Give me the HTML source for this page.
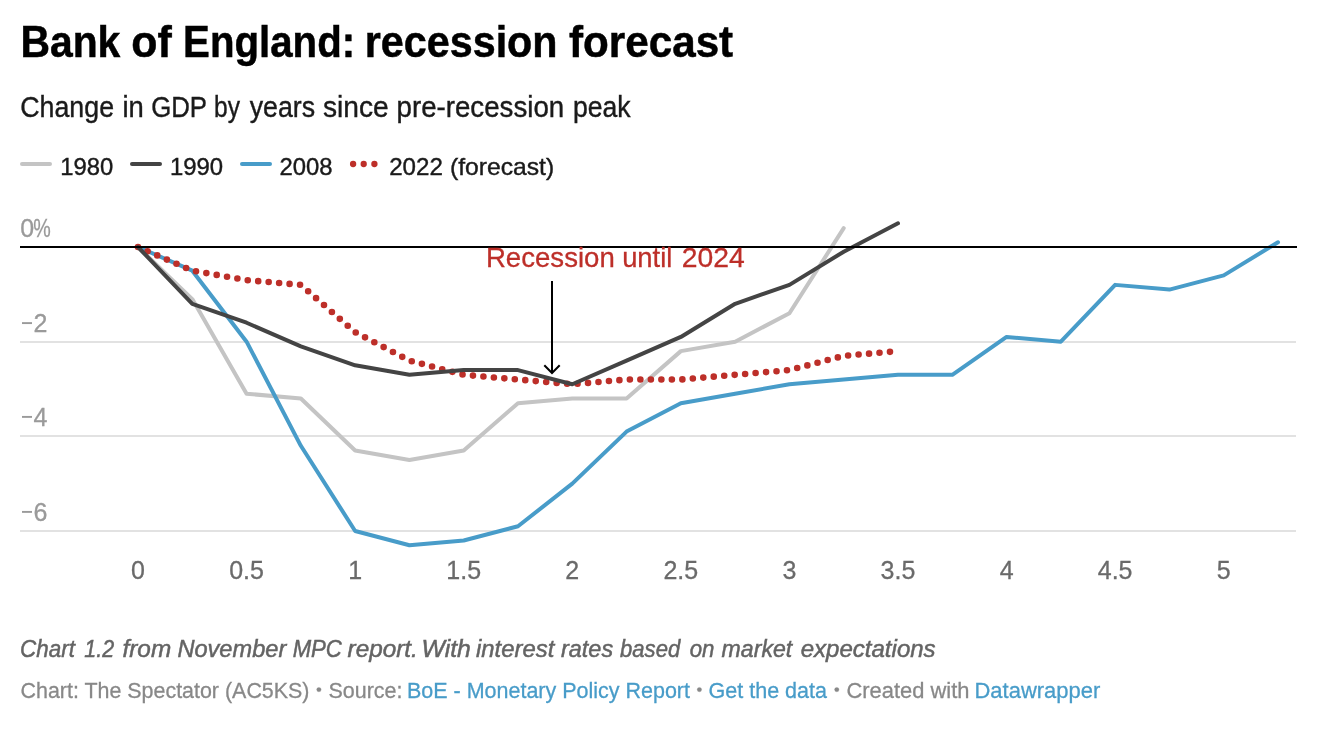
<!DOCTYPE html>
<html><head><meta charset="utf-8"><style>
html,body{margin:0;padding:0;background:#fff;}
body{width:1340px;height:754px;overflow:hidden;position:relative;}
svg{position:absolute;left:0;top:0;will-change:transform;}
text{font-family:"Liberation Sans",sans-serif;}
</style></head><body>
<svg width="1340" height="754" viewBox="0 0 1340 754">
<rect width="1340" height="754" fill="#fff"/>
<g font-size="45" font-weight="bold" fill="#000" stroke="#000" stroke-width="0.5"><text x="20.38" y="57.3" textLength="99.96" lengthAdjust="spacingAndGlyphs">Bank</text><text x="131.35" y="57.3" textLength="40.46" lengthAdjust="spacingAndGlyphs">of</text><text x="183.11" y="57.3" textLength="172.0" lengthAdjust="spacingAndGlyphs">England:</text><text x="364.77" y="57.3" textLength="192.78" lengthAdjust="spacingAndGlyphs">recession</text><text x="569.0" y="57.3" textLength="164.17" lengthAdjust="spacingAndGlyphs">forecast</text></g>
<g font-size="29" fill="#1a1a1a" stroke="#1a1a1a" stroke-width="0.4"><text x="20.28" y="116.6" textLength="93.77" lengthAdjust="spacingAndGlyphs">Change</text><text x="122.46" y="116.6" textLength="21.34" lengthAdjust="spacingAndGlyphs">in</text><text x="151.21" y="116.6" textLength="55.84" lengthAdjust="spacingAndGlyphs">GDP</text><text x="214.05" y="116.6" textLength="25.94" lengthAdjust="spacingAndGlyphs">by</text><text x="249.7" y="116.6" textLength="65.35" lengthAdjust="spacingAndGlyphs">years</text><text x="323.03" y="116.6" textLength="65.75" lengthAdjust="spacingAndGlyphs">since</text><text x="396.55" y="116.6" textLength="167.66" lengthAdjust="spacingAndGlyphs">pre-recession</text><text x="572.88" y="116.6" textLength="57.72" lengthAdjust="spacingAndGlyphs">peak</text></g>
<g stroke-linecap="round" stroke-width="4" fill="none">
<line x1="22" y1="164" x2="50" y2="164" stroke="#c4c4c4"/>
<line x1="132" y1="164" x2="160" y2="164" stroke="#444444"/>
<line x1="242" y1="164" x2="270" y2="164" stroke="#489cc9"/>
</g>
<g fill="#bd2f29"><circle cx="353.1" cy="164" r="3.15"/><circle cx="363.7" cy="164" r="3.15"/><circle cx="374.4" cy="164" r="3.15"/></g>
<g font-size="24" fill="#1a1a1a" stroke="#1a1a1a" stroke-width="0.4"><text x="60.21" y="175" textLength="52.98" lengthAdjust="spacingAndGlyphs">1980</text><text x="169.9" y="175" textLength="53.19" lengthAdjust="spacingAndGlyphs">1990</text><text x="279.51" y="175" textLength="53.08" lengthAdjust="spacingAndGlyphs">2008</text><text x="389.19" y="175" textLength="53.7" lengthAdjust="spacingAndGlyphs">2022</text><text x="449.97" y="175" textLength="104.23" lengthAdjust="spacingAndGlyphs">(forecast)</text></g>
<g fill="none" stroke="#e2e2e2" stroke-width="2">
<line x1="20" y1="342" x2="1296" y2="342"/>
<line x1="20" y1="436" x2="1296" y2="436"/>
<line x1="20" y1="531" x2="1296" y2="531"/>
</g>
<g font-size="25" fill="#9a9a9a" stroke="#9a9a9a" stroke-width="0.3">
<text x="20.3" y="237">0</text><text x="33.2" y="237" textLength="17.5" lengthAdjust="spacingAndGlyphs">%</text>
<rect x="22" y="322.15" width="10" height="1.9" stroke="none"/><text x="33.6" y="332">2</text>
<rect x="22" y="415.95" width="10" height="1.9" stroke="none"/><text x="33.6" y="426">4</text>
<rect x="22" y="510.95" width="10" height="1.9" stroke="none"/><text x="33.6" y="521">6</text>
</g>
<g font-size="25" fill="#6a6a6a" stroke="#6a6a6a" stroke-width="0.3"><text x="138.00" y="579" text-anchor="middle">0</text><text x="246.57" y="579" text-anchor="middle">0.5</text><text x="355.14" y="579" text-anchor="middle">1</text><text x="463.72" y="579" text-anchor="middle">1.5</text><text x="572.29" y="579" text-anchor="middle">2</text><text x="680.86" y="579" text-anchor="middle">2.5</text><text x="789.43" y="579" text-anchor="middle">3</text><text x="898.00" y="579" text-anchor="middle">3.5</text><text x="1006.58" y="579" text-anchor="middle">4</text><text x="1115.15" y="579" text-anchor="middle">4.5</text><text x="1223.72" y="579" text-anchor="middle">5</text></g>
<g fill="none" stroke-width="4" stroke-linejoin="round" stroke-linecap="round">
<path d="M138.00,247.00 L192.29,299.07 L246.57,393.73 L300.86,398.47 L355.14,450.53 L409.43,460.00 L463.72,450.53 L518.00,403.20 L572.29,398.47 L626.57,398.47 L680.86,351.13 L735.15,341.67 L789.43,313.27 L843.72,228.07" stroke="#c4c4c4"/>
<path d="M138.00,247.00 L192.29,270.67 L246.57,341.67 L300.86,445.80 L355.14,531.00 L409.43,545.20 L463.72,540.46 L518.00,526.26 L572.29,483.66 L626.57,431.60 L680.86,403.20 L735.15,393.73 L789.43,384.27 L843.72,379.53 L898.00,374.80 L952.29,374.80 L1006.58,336.93 L1060.86,341.67 L1115.15,284.87 L1169.43,289.60 L1223.72,275.40 L1278.01,242.27" stroke="#489cc9"/>
<path d="M138.00,247.00 L192.29,270.67 L246.57,280.13 L300.86,284.87 L355.14,332.20 L409.43,360.60 L463.72,374.80 L518.00,379.53 L572.29,384.27 L626.57,379.53 L680.86,379.53 L735.15,374.80 L789.43,370.07 L843.72,355.87 L898.00,351.13" stroke="#bd2f29" stroke-width="6.6" stroke-dasharray="0 10.5"/>
<path d="M138.00,247.00 L192.29,303.80 L246.57,322.73 L300.86,346.40 L355.14,365.33 L409.43,374.80 L463.72,370.07 L518.00,370.07 L572.29,384.27 L626.57,360.60 L680.86,336.93 L735.15,303.80 L789.43,284.87 L843.72,251.73 L898.00,223.33" stroke="#444444"/>
</g>
<line x1="20" y1="247" x2="1297" y2="247" stroke="#000" stroke-width="2"/>
<g font-size="28.5" fill="#bd2f29" stroke="#bd2f29" stroke-width="0.3"><text x="485.96" y="266.7" textLength="128.78" lengthAdjust="spacingAndGlyphs">Recession</text><text x="622.14" y="266.7" textLength="50.31" lengthAdjust="spacingAndGlyphs">until</text><text x="681.71" y="266.7" textLength="63.0" lengthAdjust="spacingAndGlyphs">2024</text></g>
<g stroke="#000" stroke-width="2" fill="none">
<line x1="552" y1="281" x2="552" y2="373"/>
<polyline points="544.3,365.2 552,373 559.7,365.2"/>
</g>
<g font-size="24.5" font-style="italic" fill="#646464" stroke="#646464" stroke-width="0.5"><text x="20.08" y="657.1" textLength="54.83" lengthAdjust="spacingAndGlyphs">Chart</text><text x="84.3" y="657.1" textLength="29.85" lengthAdjust="spacingAndGlyphs">1.2</text><text x="122.5" y="657.1" textLength="48.69" lengthAdjust="spacingAndGlyphs">from</text><text x="177.4" y="657.1" textLength="108.85" lengthAdjust="spacingAndGlyphs">November</text><text x="292.7" y="657.1" textLength="49.11" lengthAdjust="spacingAndGlyphs">MPC</text><text x="347.6" y="657.1" textLength="70.29" lengthAdjust="spacingAndGlyphs">report.</text><text x="421.47" y="657.1" textLength="49.43" lengthAdjust="spacingAndGlyphs">With</text><text x="476.0" y="657.1" textLength="78.26" lengthAdjust="spacingAndGlyphs">interest</text><text x="561.0" y="657.1" textLength="52.15" lengthAdjust="spacingAndGlyphs">rates</text><text x="620.1" y="657.1" textLength="60.09" lengthAdjust="spacingAndGlyphs">based</text><text x="689.7" y="657.1" textLength="24.74" lengthAdjust="spacingAndGlyphs">on</text><text x="721.6" y="657.1" textLength="70.65" lengthAdjust="spacingAndGlyphs">market</text><text x="800.7" y="657.1" textLength="134.95" lengthAdjust="spacingAndGlyphs">expectations</text></g>
<g font-size="22.8" fill="#888888" stroke="#888888" stroke-width="0.3">
<text x="20.5" y="697.9" textLength="289" lengthAdjust="spacingAndGlyphs">Chart: The Spectator (AC5KS)</text>
<circle cx="318.9" cy="689.6" r="2.2"/>
<text x="328.5" y="697.9" textLength="74" lengthAdjust="spacingAndGlyphs">Source:</text>
<text x="407" y="697.9" fill="#489cc9" stroke="#489cc9" textLength="283" lengthAdjust="spacingAndGlyphs">BoE - Monetary Policy Report</text>
<circle cx="699.4" cy="689.6" r="2.2"/>
<text x="708.5" y="697.9" fill="#489cc9" stroke="#489cc9" textLength="118.5" lengthAdjust="spacingAndGlyphs">Get the data</text>
<circle cx="836.8" cy="689.6" r="2.2"/>
<text x="846.5" y="697.9" textLength="123" lengthAdjust="spacingAndGlyphs">Created with</text>
<text x="974.5" y="697.9" fill="#489cc9" stroke="#489cc9" textLength="125.8" lengthAdjust="spacingAndGlyphs">Datawrapper</text>
</g>
</svg>
</body></html>
